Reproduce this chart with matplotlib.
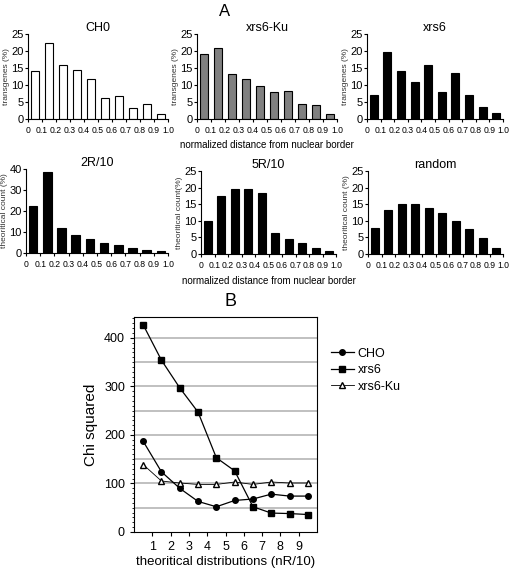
import numpy as np
import matplotlib
matplotlib.use("Agg")
import matplotlib.pyplot as plt

plt.rcParams['font.family'] = ['Liberation Sans', 'DejaVu Sans']

bins = np.arange(0.05, 1.0, 0.1)
tick_pos = np.round(np.arange(0, 1.01, 0.1), 1)
tick_lab = ['0', '0.1', '0.2', '0.3', '0.4', '0.5', '0.6', '0.7', '0.8', '0.9', '1.0']

cho = [14, 22.5, 16, 14.5, 11.8, 6.2, 6.8, 3.2, 4.3, 1.5]
xrs6_ku = [19, 21, 13.2, 11.7, 9.8, 8, 8.2, 4.5, 4.2, 1.4]
xrs6 = [7.2, 19.7, 14, 11, 15.8, 7.8, 13.6, 7.2, 3.6, 1.8]
r2 = [22.5, 38.5, 12, 8.7, 6.7, 5, 3.8, 2.6, 1.6, 0.8]
r5 = [10, 17.4, 19.5, 19.5, 18.3, 6.4, 4.6, 3.2, 1.8, 0.8]
rand = [7.8, 13.4, 15, 15, 14, 12.3, 10, 7.6, 4.8, 1.8]

nr = np.arange(0.5, 10, 1.0)
chi_cho = [187, 124, 90, 63, 52, 65, 68, 78, 74, 74]
chi_xrs6 = [427, 354, 297, 247, 153, 126, 52, 39, 38, 36]
chi_ku = [139, 105, 101, 98, 98, 103, 98, 103, 101, 101]

W, H = 512, 568
fig = plt.figure(figsize=(W / 100, H / 100), dpi=100)


def ax_px(x0, y0, x1, y1):
    # pixel box (top-left origin) -> figure axes
    return fig.add_axes([x0 / W, 1 - y1 / H, (x1 - x0) / W, (y1 - y0) / H])


def hist(box, vals, face, title, ylab, ymax, yticks, xlab=None):
    ax = ax_px(*box)
    ax.bar(bins, vals, width=0.06, color=face, edgecolor='black', linewidth=0.8)
    ax.set_xlim(0, 1.0)
    ax.set_ylim(0, ymax)
    ax.set_xticks(tick_pos)
    ax.set_xticklabels(tick_lab, fontsize=6.2)
    ax.set_yticks(yticks)
    ax.tick_params(axis='y', labelsize=8, length=2, pad=1)
    ax.tick_params(axis='x', length=2, pad=3)
    for s in ['top', 'right']:
        ax.spines[s].set_visible(False)
    ax.set_title(title, fontsize=9, pad=2)
    ax.set_ylabel(ylab, fontsize=6, color='#333333', labelpad=1)
    if xlab:
        ax.set_xlabel(xlab, fontsize=7, labelpad=4)
    return ax


xl = 'normalized distance from nuclear border'
hist((28, 34, 168, 119), cho, 'white', 'CH0', 'transgenes (%)', 25, range(0, 26, 5))
hist((197, 34, 337, 119), xrs6_ku, '#808080', 'xrs6-Ku', 'transgenes (%)', 25, range(0, 26, 5), xl)
hist((367, 34, 503, 119), xrs6, 'black', 'xrs6', 'transgenes (%)', 25, range(0, 26, 5))
hist((26, 169, 168, 253), r2, 'black', '2R/10', 'theoritical count (%)', 40, range(0, 41, 10))
hist((201, 171, 336, 254), r5, 'black', '5R/10', 'theoritical count(%)', 25, range(0, 26, 5), xl)
hist((368, 171, 503, 254), rand, 'black', 'random', 'theoritical count (%)', 25, range(0, 26, 5))

fig.text(225 / W, 1 - 11 / H, 'A', fontsize=12, ha='center', va='center')
fig.text(230 / W, 1 - 302 / H, 'B', fontsize=13, ha='center', va='center')

ax = ax_px(134, 317, 317, 532)
ax.set_xlim(0, 10)
ax.set_ylim(0, 443)
for g in range(50, 401, 50):
    ax.axhline(g, color='#c0c0c0', lw=1.4, zorder=0)
ax.plot(nr, chi_cho, '-o', color='black', ms=4, lw=0.9, label='CHO')
ax.plot(nr, chi_xrs6, '-s', color='black', ms=4, lw=0.9, label='xrs6')
ax.plot(nr, chi_ku, '-^', color='black', mfc='white', ms=5, lw=0.6, label='xrs6-Ku')
ax.set_xticks(range(1, 10))
ax.set_yticks(range(0, 401, 100))
ax.set_yticks(range(0, 441, 10), minor=True)
ax.tick_params(axis='both', labelsize=9, length=3)
ax.tick_params(axis='y', which='minor', length=1.5)
ax.set_ylabel('Chi squared', fontsize=11)
ax.set_xlabel('theoritical distributions (nR/10)', fontsize=9.5, labelpad=2)
ax.legend(loc='upper left', bbox_to_anchor=(1.05, 0.88), frameon=False,
          fontsize=9, handlelength=1.8, handletextpad=0.3, labelspacing=0.35,
          borderaxespad=0)

fig.savefig('out.png', dpi=100)
